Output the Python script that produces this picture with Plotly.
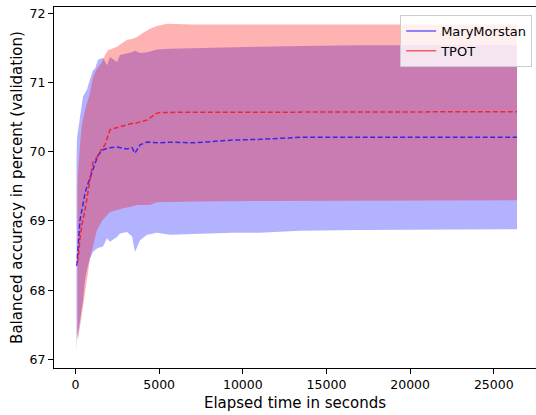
import plotly.graph_objects as go

# MaryMorstan: elapsed seconds, mean and band (mean +/- std)
mm_t = [60, 90, 269, 448, 568, 687, 867, 1046, 1166, 1345, 1644, 1883, 2062, 2481,
        2660, 3078, 3377, 3556, 3855, 4274, 4871, 5649, 7023, 9414, 11031, 13419,
        17005, 26390]
mm_mean = [68.35, 68.39, 69.01, 69.25, 69.40, 69.50, 69.62, 69.74, 69.82, 69.95,
           70.03, 70.05, 70.06, 70.07, 70.06, 70.04, 70.06, 69.98, 70.10, 70.14,
           70.13, 70.14, 70.13, 70.17, 70.18, 70.21, 70.21, 70.21]
mm_hi = [69.9, 70.2, 70.5, 70.8, 70.85, 70.9, 71.05, 71.18, 71.2, 71.33, 71.36,
         71.25, 71.37, 71.30, 71.40, 71.42, 71.44, 71.46, 71.43, 71.44, 71.48,
         71.49, 71.50, 71.51, 71.52, 71.53, 71.54, 71.54]
mm_lo = [67.11, 67.3, 67.55, 67.85, 68.15, 68.3, 68.46, 68.55, 68.58, 68.61, 68.63,
         68.75, 68.70, 68.77, 68.82, 68.84, 68.78, 68.55, 68.72, 68.80, 68.83,
         68.80, 68.81, 68.83, 68.83, 68.86, 68.87, 68.88]

# TPOT
tp_t = [120, 150, 269, 389, 568, 747, 867, 1046, 1285, 1584, 1763, 1943, 2062, 2182,
        2481, 2780, 2959, 3078, 3377, 3676, 4035, 4274, 4453, 4871, 5051, 5469,
        7023, 11031, 17005, 26390]
tp_mean = [68.40, 68.44, 68.75, 68.95, 69.16, 69.40, 69.55, 69.85, 69.92, 70.05,
           70.10, 70.25, 70.32, 70.33, 70.35, 70.38, 70.39, 70.40, 70.41, 70.42,
           70.44, 70.46, 70.49, 70.56, 70.57, 70.57, 70.57, 70.57, 70.58, 70.58]
tp_hi = [69.5, 69.7, 70.1, 70.4, 70.6, 70.75, 70.85, 71.08, 71.2, 71.3, 71.4, 71.47,
         71.48, 71.50, 71.52, 71.57, 71.60, 71.62, 71.63, 71.66, 71.72, 71.76,
         71.78, 71.82, 71.83, 71.85, 71.84, 71.84, 71.84, 71.84]
tp_lo = [67.35, 67.28, 67.45, 67.68, 67.95, 68.25, 68.46, 68.65, 68.87, 69.00,
         69.05, 69.10, 69.13, 69.14, 69.16, 69.18, 69.19, 69.20, 69.21, 69.23,
         69.23, 69.23, 69.23, 69.27, 69.27, 69.28, 69.28, 69.29, 69.30, 69.30]

x_ticks = [0, 5000, 10000, 15000, 20000, 25000]
y_ticks = [67, 68, 69, 70, 71, 72]

series = [
    ("MaryMorstan", mm_t, mm_mean, mm_hi, mm_lo, (0, 0, 255)),
    ("TPOT", tp_t, tp_mean, tp_hi, tp_lo, (255, 0, 0)),
]

fig = go.Figure()

# bands first (blue under red)
for name, t, m, hi, lo, c in series:
    fig.add_trace(go.Scatter(
        x=t + t[::-1], y=hi + lo[::-1], fill="toself", mode="lines",
        line=dict(width=0), fillcolor="rgba(%d,%d,%d,0.3)" % c,
        hoverinfo="skip", showlegend=False))

# dashed mean lines
for name, t, m, hi, lo, c in series:
    fig.add_trace(go.Scatter(
        x=t, y=m, mode="lines", showlegend=False, name=name,
        line=dict(color="rgba(%d,%d,%d,0.7)" % c, width=1.5, dash="5px,2.5px")))

# legend entries (solid)
for name, t, m, hi, lo, c in series:
    fig.add_trace(go.Scatter(
        x=[None], y=[None], mode="lines", name=name,
        line=dict(color="rgba(%d,%d,%d,0.6)" % c, width=1.5)))

font = dict(family="DejaVu Sans", size=12.5, color="black")
fig.update_layout(
    width=536, height=415,
    margin=dict(l=54, r=0, t=7, b=47),
    plot_bgcolor="white", paper_bgcolor="white",
    font=font,
    showlegend=True,
    legend=dict(x=0.992, y=0.978, xanchor="right", yanchor="top",
                bgcolor="rgba(255,255,255,0.8)", bordercolor="#cccccc", borderwidth=1,
                font=dict(family="DejaVu Sans", size=13, color="black"),
                itemwidth=30, tracegroupgap=0),
)
fig.update_xaxes(
    range=[-1285, 27525], tickvals=x_ticks, ticktext=[str(v) for v in x_ticks],
    ticks="outside", ticklen=5, automargin=False,
    tickcolor="black", showline=True, linecolor="black", linewidth=1,
    mirror=True, showgrid=False, zeroline=False,
    title=dict(text="Elapsed time in seconds", standoff=6))
fig.update_yaxes(
    range=[66.874, 72.094], tickvals=y_ticks, ticks="outside", ticklen=5,
    automargin=False, ticklabeloverflow="allow",
    tickcolor="black", showline=True, linecolor="black", linewidth=1,
    mirror=False, showgrid=False, zeroline=False,
    title=dict(text="Balanced accuracy in percent (validation)", standoff=3))

# drop the default 8px page margin so the figure fills the window
fig.write_html("out.html", config={"displayModeBar": False},
               post_script="document.body.style.margin='0px';")
